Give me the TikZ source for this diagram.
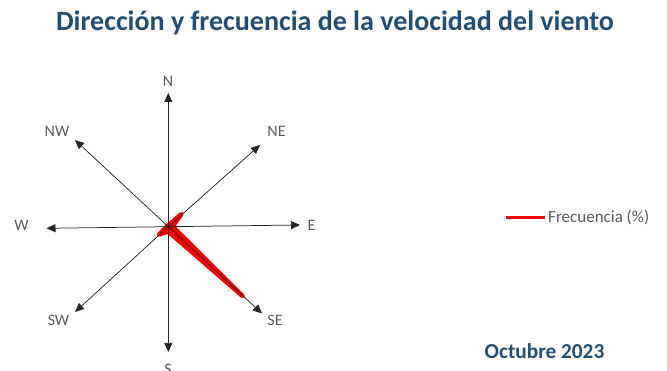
\documentclass[tikz,border=0pt]{standalone}
\usepackage{fontspec}
\setmainfont{Carlito}
\usetikzlibrary{arrows.meta}
\definecolor{titleblue}{HTML}{1F4E79}
\definecolor{labgray}{HTML}{595959}
\begin{document}
\begin{tikzpicture}[x=1pt,y=-1pt,
  axis/.style={draw=black!85,line width=0.75pt,-{Triangle[length=9pt,width=8pt]}},
  dirlab/.style={text=labgray,font=\fontsize{16}{18}\selectfont,inner sep=0pt},
  freq/.style={draw=red,fill=red,line width=4.5pt,line join=round,line cap=round}]
\useasboundingbox (0,0) rectangle (667,371);
\node[text=titleblue,font=\fontsize{28}{32}\selectfont\bfseries] (title) at (335,23) {Dirección y frecuencia de la velocidad del viento};
% compass
\coordinate (c) at (168.3,226.7);
\coordinate (tN) at (168.3,93);
\coordinate (tS) at (168.3,352);
\coordinate (tE) at (300,225);
\coordinate (tW) at (46.5,228.3);
\coordinate (tNE) at (260,145);
\coordinate (tNW) at (75,140);
\coordinate (tSW) at (75,312);
\coordinate (tSE) at (262,313.5);
% red frequency polygon
\draw[freq] (168.3,225.5) -- (181.5,214) -- (172.5,226.5) -- (242.5,296) -- (168.3,231.5) -- (159,234.5) -- (166.5,227) -- (167.3,225.8) -- cycle;
\foreach \t in {tN,tS,tE,tW,tNE,tNW,tSW,tSE}{\draw[axis] (c) -- (\t);}
\node[dirlab] (lN) at (168,81.5) {N};
\node[dirlab] (lS) at (168,369) {S};
\node[dirlab] (lE) at (311.5,225.5) {E};
\node[dirlab] (lW) at (21.5,225.5) {W};
\node[dirlab] (lNE) at (276.5,131.5) {NE};
\node[dirlab] (lNW) at (57,131) {NW};
\node[dirlab] (lSW) at (58.5,320) {SW};
\node[dirlab] (lSE) at (275,320) {SE};
% legend
\coordinate (la) at (506,217.3);
\coordinate (lb) at (545,217.3);
\draw[draw=red,line width=3pt] (la) -- (lb);
\node[dirlab,anchor=west,font=\fontsize{17}{19}\selectfont] (leg) at (548,217.3) {Frecuencia (\%)};
\node[text=titleblue,font=\fontsize{21.3}{24}\selectfont\bfseries,anchor=west,inner sep=0pt] (month) at (484.5,351.5) {Octubre 2023};
\end{tikzpicture}
\end{document}
